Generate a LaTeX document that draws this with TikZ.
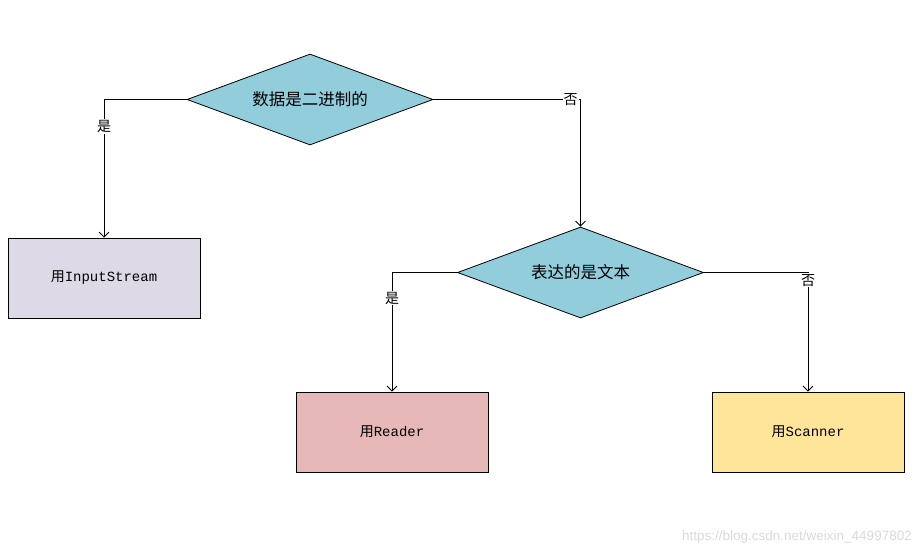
\documentclass[tikz,border=0pt]{standalone}
\usepackage{fontspec}
\setmainfont{Liberation Serif}
\setmonofont{Liberation Mono}
\setsansfont{Liberation Sans}
\newfontfamily\cjk{Noto Sans CJK SC}
\usetikzlibrary{shapes.geometric,arrows.meta}
\definecolor{dcyan}{RGB}{146,205,220}
\definecolor{blav}{RGB}{221,217,230}
\definecolor{bpink}{RGB}{230,185,184}
\definecolor{byel}{RGB}{255,229,153}
\tikzset{
  dec/.style={diamond, aspect=2.7, draw=black, fill=dcyan, line width=0.8pt, inner sep=0pt,
    minimum width=246pt, minimum height=91pt, font=\fontsize{16.5}{18}\selectfont\cjk},
  boxx/.style={rectangle, draw=black, line width=0.8pt, inner sep=0pt,
    minimum width=192pt, minimum height=80pt, font=\fontsize{14}{16}\selectfont},
  arr/.style={draw=black, line width=0.8pt, -{Straight Barb[length=5pt,width=10pt,line width=0.8pt]}},
  lbl/.style={fill=white, inner sep=1pt, font=\fontsize{14}{15}\selectfont\cjk},
}
\newcommand{\yong}{{\cjk 用}}
\begin{document}
\begin{tikzpicture}[x=1pt,y=-1pt]
\useasboundingbox (0,0) rectangle (920,554);
\node[dec] (d1) at (310,99.5) {数据是二进制的};
\node[dec] (d2) at (580.5,272.5) {表达的是文本};
\node[boxx, fill=blav] (b1) at (104,278) {\yong\texttt{InputStream}};
\node[boxx, fill=bpink] (b2) at (392,432) {\yong\texttt{Reader}};
\node[boxx, fill=byel] (b3) at (808,432) {\yong\texttt{Scanner}};
\draw[arr] (d1.west) -| (b1.north) node[lbl, pos=0.598] {是};
\draw[arr] (d1.east) -| (d2.north) node[lbl, pos=0.466] {否};
\draw[arr] (d2.west) -| (b2.north) node[lbl, pos=0.608] {是};
\draw[arr] (d2.east) -| (b3.north) node[lbl, pos=0.533] {否};
\node[font=\fontsize{13.5}{15}\selectfont\sffamily, text=black!15, anchor=east, inner sep=0pt] (wm) at (912,537) {https://blog.csdn.net/weixin\_44997802};
\end{tikzpicture}
\end{document}
